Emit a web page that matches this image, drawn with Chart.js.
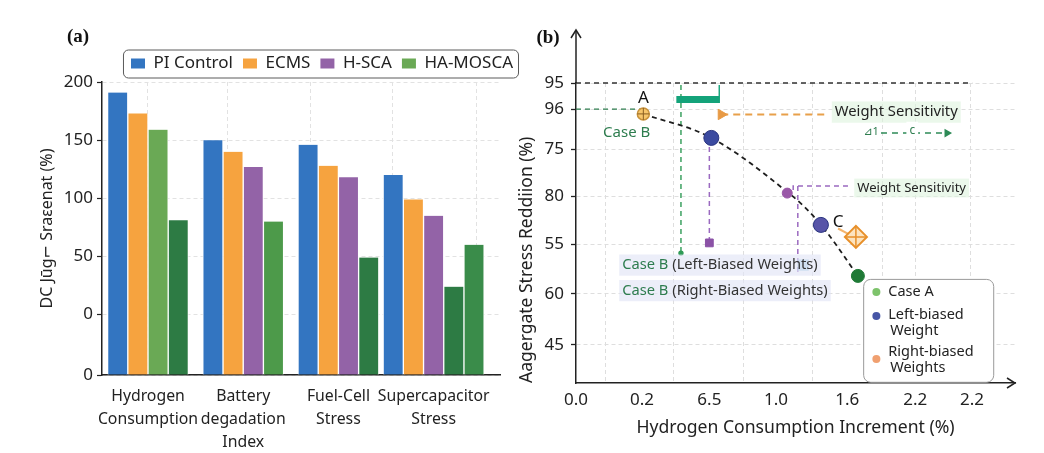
<!DOCTYPE html>
<html>
<head>
<meta charset="utf-8">
<title>Stress vs hydrogen consumption</title>
<script src="https://cdn.jsdelivr.net/npm/chart.js@4.4.1/dist/chart.umd.min.js"></script>
<style>
  html, body { margin: 0; padding: 0; background: #fff; }
  body { width: 1044px; height: 453px; position: relative; overflow: hidden; }
  canvas { position: absolute; top: 0; }
  #chartA { left: 0; }
  #chartB { left: 515px; }
</style>
</head>
<body>
<canvas id="chartA" width="523" height="453"></canvas>
<canvas id="chartB" width="529" height="453"></canvas>
<script>
// ---------- panel (a) ----------
var categories = [["Hydrogen", "Consumption"], ["Battery", "degadation", "Index"], ["Fuel-Cell", "Stress"], ["Supercapacitor", "Stress"]];
var categoryPos = [0, 1, 2, 3];
var piControl = [191, 150, 146, 120];
var ecms = [173, 140, 128, 99];
var hSca = [159, 127, 118, 85];
var haMosca = [81, 80, 49, 24];
var haMoscaExtra = [null, null, null, 60];
var yTicksA = [-52, 0, 50, 100, 150, 200];
var yTickLabelsA = ["0", "0", "50", "100", "150", "200"];
var xGridA = [0, 0.84, 1.71, 2.57, 3.45];
var legendA = ["PI Control", "ECMS", "H-SCA", "HA-MOSCA"];

// ---------- panel (b) ----------
var xTickPosB = [0, 1.0, 2.02, 3.03, 4.11, 5.14, 6];
var xTickLabelsB = ["0.0", "0.2", "6.5", "1.0", "1.6", "2.2", "2.2"];
var xGridB = [0.44, 1.48, 2.53, 3.59, 4.64, 5.14, 5.98];
var yTickPosB = [12.7, 29.7, 46.3, 62.3, 78, 91.3, 100];
var yTickLabelsB = ["45", "60", "55", "80", "75", "96", "95"];

var frontX = [1.02, 2.05, 3.25, 3.71, 4.27];
var frontY = [89.7, 81.7, 62.8, 52.7, 35.7];
var pointAX = [1.02], pointAY = [89.7];
var leftBiasedX = [2.05, 3.71], leftBiasedY = [81.7, 52.7];
var midWeightX = [3.2], midWeightY = [63.3];
var caseAX = [4.27], caseAY = [35.7];
var squareX = [2.02], squareY = [46.7];
var rightBiasedX = [4.24], rightBiasedY = [48.7];
var arrowTipX = [2.2], arrowTipY = [89.5];
var highlightX = [3.44], highlightY = [39.3];

// guide lines of panel (b)
var refTopX = [0, 6], refTopY = [100, 100];
var refGreenX = [0, 1.02], refGreenY = [91.3, 91.3];
var greenVertX = [1.59, 1.59], greenVertY = [99.3, 43.3];
var greenBarX = [1.52, 2.17], greenBarY = [94.5, 94.5];
var greenCapX = [2.17, 2.17], greenCapY = [99.3, 93.3];
var orangeDashX = [2.2, 3.8], orangeDashY = [89.5, 89.5];
var purpleDropX = [2.02, 2.02], purpleDropY = [81.7, 46.7];
var purpleBracketX = [3.29, 3.29, 4.12], purpleBracketY = [64.3, 65.7, 65.7];
var purpleDrop2X = [3.36, 3.36], purpleDrop2Y = [65.7, 36.7];
var greenArrowX = [4.62, 5.62], greenArrowY = [83.3, 83.3];
var orangeFlareX = [3.97, 4.13], orangeFlareY = [51.5, 49.6];

var BLUE = "#3375c1", ORANGE = "#f6a33f", PURPLE = "#9363a7";
var LGREEN = "#6aa955", DGREEN = "#2d7b44", MGREEN = "#4d9a4a", XGREEN = "#3a8c4a";
var TXT_GREEN = "#2e7d4f";

Chart.defaults.font.family = '"Noto Sans", "DejaVu Sans", sans-serif';
Chart.defaults.color = "#222";

function xy(xs, ys) {
  return xs.map(function (x, i) { return { x: x, y: ys[i] }; });
}

function setTicks(values) {
  return function (scale) {
    scale.ticks = values.map(function (v) { return { value: v }; });
  };
}

function panelTag(ctx, txt, x, y) {
  ctx.save();
  ctx.font = 'bold 19px "Liberation Serif", "DejaVu Serif", serif';
  ctx.fillStyle = "#111";
  ctx.textAlign = "center";
  ctx.textBaseline = "middle";
  ctx.fillText(txt, x, y);
  ctx.restore();
}

function roundBox(ctx, x, y, w, h, r) {
  ctx.beginPath();
  ctx.moveTo(x + r, y);
  ctx.lineTo(x + w - r, y);
  ctx.arcTo(x + w, y, x + w, y + r, r);
  ctx.lineTo(x + w, y + h - r);
  ctx.arcTo(x + w, y + h, x + w - r, y + h, r);
  ctx.lineTo(x + r, y + h);
  ctx.arcTo(x, y + h, x, y + h - r, r);
  ctx.lineTo(x, y + r);
  ctx.arcTo(x, y, x + r, y, r);
  ctx.closePath();
}

// ---------- chart (a) ----------
function barSet(label, vals, colors) {
  return {
    label: label,
    data: vals.map(function (v, i) { return { x: categoryPos[i], y: v }; }),
    backgroundColor: colors,
    borderColor: "rgba(255,255,255,0.9)",
    borderWidth: { top: 0, right: 1, bottom: 0, left: 1 },
    borderSkipped: false,
    base: -52,
    barThickness: 20.2,
    skipNull: true
  };
}

var panelA = {
  id: "panelA",
  afterDraw: function (chart) {
    var ctx = chart.ctx;
    var hb = chart.legend.legendHitBoxes;
    if (hb && hb.length) {
      var first = hb[0], last = hb[hb.length - 1];
      var left = first.left - 8, right = last.left + last.width + 5;
      var mid = first.top + first.height / 2;
      ctx.save();
      ctx.strokeStyle = "#5a5a5a";
      ctx.lineWidth = 1;
      roundBox(ctx, left + 0.5, mid - 14 + 0.5, right - left, 28, 5);
      ctx.stroke();
      ctx.restore();
    }
    panelTag(ctx, "(a)", 78, 37);
  }
};

new Chart(document.getElementById("chartA"), {
  type: "bar",
  data: {
    datasets: [
      barSet("PI Control", piControl, BLUE),
      barSet("ECMS", ecms, ORANGE),
      barSet("H-SCA", hSca, [LGREEN, PURPLE, PURPLE, PURPLE]),
      barSet("HA-MOSCA", haMosca, [DGREEN, MGREEN, DGREEN, DGREEN]),
      barSet("HA-MOSCA (2)", haMoscaExtra, XGREEN)
    ]
  },
  options: {
    responsive: false,
    animation: false,
    events: [],
    layout: { padding: { top: 45, left: 0, right: 0, bottom: 0 } },
    plugins: {
      tooltip: { enabled: false },
      legend: {
        position: "top",
        align: "end",
        labels: {
          boxWidth: 14,
          boxHeight: 10,
          padding: 10,
          color: "#222",
          font: { size: 17 },
          generateLabels: function () {
            var cols = [BLUE, ORANGE, PURPLE, LGREEN];
            return legendA.map(function (t, i) {
              return { text: t, fillStyle: cols[i], strokeStyle: cols[i], lineWidth: 0, hidden: false, datasetIndex: i, fontColor: "#222" };
            });
          }
        }
      }
    },
    scales: {
      x: {
        type: "linear",
        offset: false,
        min: -0.483,
        max: 3.697,
        afterBuildTicks: setTicks(categoryPos),
        afterFit: function (s) { s.height = 78; },
        grid: { display: false, drawTicks: false, offset: false },
        border: { color: "#222", width: 1.5 },
        ticks: {
          autoSkip: false,
          maxRotation: 0,
          padding: 10.5,
          color: "#222",
          font: { size: 15.8, lineHeight: 1.45 },
          callback: function (v, i) { return categories[i]; }
        }
      },
      xg: {
        type: "linear",
        position: "bottom",
        offset: false,
        min: -0.483,
        max: 3.697,
        afterBuildTicks: setTicks(xGridA),
        afterFit: function (s) { s.height = 0; },
        ticks: { display: false },
        grid: { color: "#e2e2e2", drawTicks: false, offset: false },
        border: { display: false, dash: [4, 3] }
      },
      y: {
        min: -52,
        max: 200,
        afterBuildTicks: setTicks(yTicksA),
        afterFit: function (s) { s.width = 102; },
        ticks: {
          padding: 4,
          color: "#222",
          font: { size: 17 },
          callback: function (v, i) { return yTickLabelsA[i]; }
        },
        grid: { color: "#e2e2e2", tickColor: "#222", tickLength: 5, tickWidth: 1.2 },
        border: { color: "#222", width: 1.5, dash: [4, 3] },
        title: {
          display: true,
          text: "DC Jūg⌐ Sraεenat (%)",
          color: "#222",
          font: { size: 16 },
          padding: { top: 38, bottom: 0 }
        }
      },
      yPad: {
        position: "right",
        afterFit: function (s) { s.width = 23; },
        ticks: { display: false },
        grid: { display: false },
        border: { display: false }
      }
    }
  },
  plugins: [panelA]
});

// ---------- chart (b) ----------
var notesB = [
  { x: 1.02, y: 95, parts: [["A", "#111"]], size: 17, align: "center" },
  { x: 3.97, y: 53.7, parts: [["C", "#111"]], size: 17, align: "center" },
  { x: 0.41, y: 83.3, parts: [["Case B", TXT_GREEN]], size: 15 },
  { x: 3.92, y: 90.3, parts: [["Weight Sensitivity", "#222"]], size: 14.8, bg: "rgba(222,244,222,0.6)" },
  { x: 4.26, y: 65, parts: [["Weight Sensitivity", "#222"]], size: 13.1, bg: "rgba(222,244,222,0.6)" },
  { x: 0.70, y: 39.3, parts: [["Case B ", TXT_GREEN], ["(Left-Biased Weights)", "#333"]], size: 14.7, bg: "rgba(226,229,246,0.65)" },
  { x: 0.70, y: 30.8, parts: [["Case B ", TXT_GREEN], ["(Right-Biased Weights)", "#333"]], size: 14.7, bg: "rgba(226,229,246,0.65)" },
  { x: 4.35, y: 83.8, parts: [["⊿1", TXT_GREEN]], size: 11 },
  { x: 5.05, y: 84.2, parts: [["c", TXT_GREEN]], size: 12, bg: "rgba(255,255,255,1)" }
];
var legendBoxB = [4.35, 6.32, 34.7, 0.4];
var legendB = [
  { lines: ["Case A"], color: "#7dc36b", y: 30.3, dotY: 30.3 },
  { lines: ["Left-biased", "Weight"], color: "#4756a6", y: 22.7, dotY: 22.3 },
  { lines: ["Right-biased", "Weights"], color: "#f0a070", y: 10.3, dotY: 8 }
];

function drawNote(ctx, n, px, py) {
  ctx.font = n.size + 'px "Noto Sans", "DejaVu Sans", sans-serif';
  var w = 0;
  n.parts.forEach(function (p) { w += ctx.measureText(p[0]).width; });
  var x0 = n.align === "center" ? px - w / 2 : px;
  if (n.bg) {
    ctx.fillStyle = n.bg;
    ctx.fillRect(x0 - 3, py - n.size * 0.72, w + 6, n.size * 1.44);
  }
  ctx.textAlign = "left";
  ctx.textBaseline = "middle";
  n.parts.forEach(function (p) {
    ctx.fillStyle = p[1];
    ctx.fillText(p[0], x0, py);
    x0 += ctx.measureText(p[0]).width;
  });
}

var panelB = {
  id: "panelB",
  afterDatasetsDraw: function (chart) {
    var ctx = chart.ctx, xs = chart.scales.x, ys = chart.scales.y;
    ctx.save();
    notesB.forEach(function (n) {
      drawNote(ctx, n, xs.getPixelForValue(n.x), ys.getPixelForValue(n.y));
    });
    // legend box in the lower right
    var l = xs.getPixelForValue(legendBoxB[0]), r = xs.getPixelForValue(legendBoxB[1]);
    var t = ys.getPixelForValue(legendBoxB[2]), b = ys.getPixelForValue(legendBoxB[3]);
    roundBox(ctx, l + 0.5, t + 0.5, r - l, b - t, 7);
    ctx.fillStyle = "#fff";
    ctx.fill();
    ctx.strokeStyle = "#9a9a9a";
    ctx.lineWidth = 1;
    ctx.stroke();
    ctx.font = '14.5px "Noto Sans", "DejaVu Sans", sans-serif';
    ctx.textAlign = "left";
    ctx.textBaseline = "middle";
    legendB.forEach(function (it) {
      ctx.fillStyle = it.color;
      ctx.beginPath();
      ctx.arc(xs.getPixelForValue(4.55), ys.getPixelForValue(it.dotY), 4, 0, Math.PI * 2);
      ctx.fill();
      ctx.fillStyle = "#222";
      it.lines.forEach(function (s, k) {
        ctx.fillText(s, xs.getPixelForValue(4.73) + k * 2, ys.getPixelForValue(it.y) + k * 16);
      });
    });
    ctx.restore();
  },
  afterDraw: function (chart) {
    var ctx = chart.ctx, ca = chart.chartArea;
    ctx.save();
    ctx.strokeStyle = "#222";
    ctx.lineWidth = 1.5;
    ctx.beginPath();
    ctx.moveTo(ca.left, ca.top);
    ctx.lineTo(ca.left, ca.top - 53);
    ctx.stroke();
    ctx.beginPath();
    ctx.moveTo(ca.left - 5, ca.top - 45);
    ctx.lineTo(ca.left, ca.top - 53);
    ctx.lineTo(ca.left + 5, ca.top - 45);
    ctx.stroke();
    ctx.beginPath();
    ctx.moveTo(ca.right - 8, ca.bottom - 5);
    ctx.lineTo(ca.right, ca.bottom);
    ctx.lineTo(ca.right - 8, ca.bottom + 5);
    ctx.stroke();
    ctx.restore();
    panelTag(ctx, "(b)", 33, 38);
  }
};

function guide(xs, ys, color, width, dash) {
  return { data: xy(xs, ys), showLine: true, borderColor: color, backgroundColor: color, borderWidth: width, borderDash: dash || [], pointRadius: 0, clip: false };
}

function marker(xs, ys, style, radius, fill, stroke, bw) {
  return { data: xy(xs, ys), pointStyle: style, pointRadius: radius, backgroundColor: fill, borderColor: stroke, borderWidth: bw, clip: false };
}

var greenVert = guide(greenVertX, greenVertY, "#2e9a55", 1.4, [5, 4]);
greenVert.pointRadius = [0, 2];
var greenArrow = guide(greenArrowX, greenArrowY, "#2e8b57", 1.5, [6, 5]);
greenArrow.pointRadius = [0, 3.5];
greenArrow.pointStyle = "triangle";
greenArrow.rotation = 90;
var tip = marker(arrowTipX, arrowTipY, "triangle", 6, "#e89a45", "#e89a45", 1);
tip.rotation = 90;
var front = guide(frontX, frontY, "#1e1e1e", 1.8, [5, 4]);
front.tension = 0.35;

new Chart(document.getElementById("chartB"), {
  type: "scatter",
  data: {
    datasets: [
      marker(pointAX, pointAY, "cross", 6, "#8a5e22", "#8a5e22", 1),
      marker(pointAX, pointAY, "circle", 6, "#f7c66b", "#c8923c", 1.5),
      marker(leftBiasedX, leftBiasedY, "circle", 7.5, ["#3b4aa0", "#5855a8"], "#2a3580", 1),
      marker(midWeightX, midWeightY, "circle", 5, "#9a58a8", "#9a58a8", 1),
      marker(caseAX, caseAY, "circle", 6.5, "#1f7a36", "#1f7a36", 1),
      marker(squareX, squareY, "rect", 5.5, "#8b52a6", "#8b52a6", 1),
      marker(rightBiasedX, rightBiasedY, "cross", 11, "#e8902a", "#e8902a", 1.5),
      marker(rightBiasedX, rightBiasedY, "rectRot", 11, "rgba(250,205,140,0.55)", "#e8902a", 2),
      tip,
      marker(highlightX, highlightY, "rect", 8, "rgba(120,185,215,0.6)", "rgba(120,185,215,0.6)", 0),
      front,
      guide(orangeFlareX, orangeFlareY, "rgba(240,160,70,0.8)", 2),
      greenArrow,
      guide(purpleBracketX, purpleBracketY, "#9b6ac0", 1.5, [5, 4]),
      guide(purpleDrop2X, purpleDrop2Y, "#9b6ac0", 1.5, [5, 4]),
      guide(purpleDropX, purpleDropY, "#9b6ac0", 1.5, [5, 4]),
      guide(orangeDashX, orangeDashY, "#e8a04a", 1.8, [7, 5]),
      guide(greenCapX, greenCapY, "#14a37a", 1.4),
      guide(greenBarX, greenBarY, "#14a37a", 7),
      greenVert,
      guide(refGreenX, refGreenY, "#2e7d4f", 1.4, [5, 4]),
      guide(refTopX, refTopY, "#333", 1.3, [5, 4])
    ]
  },
  options: {
    responsive: false,
    animation: false,
    events: [],
    layout: { padding: { top: 83, left: 0, right: 29, bottom: 0 } },
    plugins: { legend: { display: false }, tooltip: { enabled: false } },
    scales: {
      x: {
        type: "linear",
        min: 0,
        max: 6.65,
        afterBuildTicks: setTicks(xTickPosB),
        afterFit: function (s) { s.height = 70; },
        grid: { display: false, drawTicks: false },
        border: { color: "#222", width: 1.5 },
        ticks: {
          autoSkip: false,
          maxRotation: 0,
          padding: 7,
          color: "#222",
          font: { size: 17 },
          callback: function (v, i) { return xTickLabelsB[i]; }
        },
        title: {
          display: true,
          text: "Hydrogen Consumption Increment (%)",
          color: "#222",
          font: { size: 17.6 },
          padding: { top: 0, bottom: 14.5 }
        }
      },
      xg: {
        type: "linear",
        position: "bottom",
        min: 0,
        max: 6.65,
        afterBuildTicks: setTicks(xGridB),
        afterFit: function (s) { s.height = 0; },
        ticks: { display: false },
        grid: { color: "#dedede", tickColor: "#222", tickLength: 5, tickWidth: 1.3 },
        border: { display: false, dash: [4, 3] }
      },
      y: {
        type: "linear",
        min: 0,
        max: 100,
        afterBuildTicks: setTicks(yTickPosB),
        afterFit: function (s) { s.width = 61; },
        ticks: {
          padding: 7,
          color: "#222",
          font: { size: 17 },
          callback: function (v, i) { return yTickLabelsB[i]; }
        },
        grid: { color: "#dedede", tickColor: "#222", tickLength: 5, tickWidth: 1.3 },
        border: { color: "#222", width: 1.5, dash: [4, 3] },
        title: {
          display: true,
          text: "Aagergate Stress Reddiion (%)",
          align: "start",
          color: "#222",
          font: { size: 17.5 },
          padding: { top: 1.5, bottom: 0 }
        }
      }
    }
  },
  plugins: [panelB]
});
</script>
</body>
</html>
